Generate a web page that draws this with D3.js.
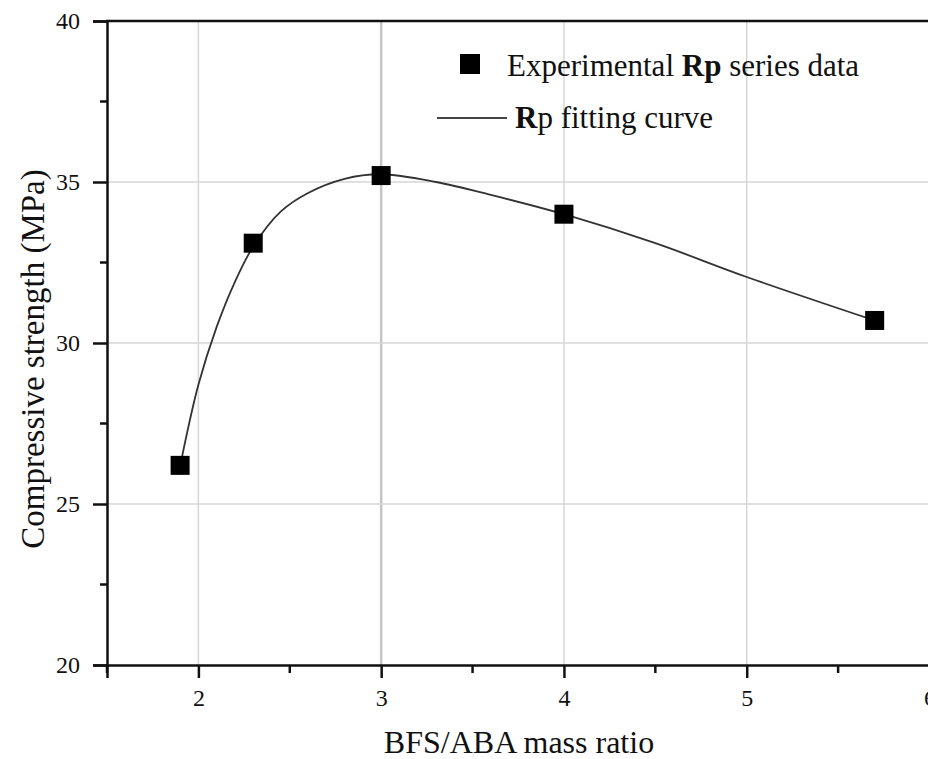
<!DOCTYPE html>
<html>
<head>
<meta charset="utf-8">
<script src="https://d3js.org/d3.v7.min.js"></script>
<style>
    body { margin: 0; background: #fff; }
    text { font-family: "Liberation Serif", "Times New Roman", serif; fill: #111; }
</style>
</head>
<body>
<div id="chart"></div>
<script>
    // measured points
    var ratio = [1.9, 2.3, 3.0, 4.0, 5.7];
    var strength = [26.2, 33.1, 35.2, 34.0, 30.7];

    // fitting curve
    var fitX = [1.91, 2.0, 2.1, 2.2, 2.3, 2.45, 2.6, 2.8, 3.0, 3.3, 3.6, 4.0, 4.5, 5.0, 5.7];
    var fitY = [26.45, 28.7, 30.5, 31.9, 33.0, 34.08, 34.66, 35.1, 35.24, 35.0, 34.6, 34.0, 33.1, 32.05, 30.7];

    var xTicks = [2, 3, 4, 5, 6];
    var xMinor = [1.5, 2.5, 3.5, 4.5, 5.5];
    var yTicks = [20, 25, 30, 35, 40];
    var yMinor = [22.5, 27.5, 32.5, 37.5];

    var W = 928, H = 759;
    var pLeft = 107, pTop = 21, pBottom = 665, pRight = 929.5;

    var svg = d3.select("#chart").append("svg")
        .attr("width", W)
        .attr("height", H);

    var x = d3.scaleLinear().domain([1.5, 6]).range([pLeft, pRight]);
    var y = d3.scaleLinear().domain([20, 40]).range([pBottom, pTop]);

    // grid
    svg.append("g")
        .selectAll("line")
        .data(xTicks.filter(function (d) { return d < 6; }))
        .join("line")
        .attr("x1", function (d) { return x(d); })
        .attr("x2", function (d) { return x(d); })
        .attr("y1", pTop)
        .attr("y2", pBottom)
        .attr("stroke", function (d) { return d == 3 ? "#c4c4c4" : "#d6d6d6"; })
        .attr("stroke-width", function (d) { return d == 3 ? 2.5 : 1.5; });

    svg.append("g")
        .selectAll("line")
        .data([25, 30, 35])
        .join("line")
        .attr("x1", pLeft)
        .attr("x2", pRight)
        .attr("y1", function (d) { return y(d); })
        .attr("y2", function (d) { return y(d); })
        .attr("stroke", "#d6d6d6")
        .attr("stroke-width", 1.5);

    // x axis
    var xAxis = svg.append("g")
        .attr("transform", "translate(0," + pBottom + ")")
        .call(d3.axisBottom(x).tickValues(xTicks).tickSize(13).tickPadding(11).tickFormat(d3.format("d")));
    xAxis.append("g")
        .selectAll("line")
        .data(xMinor)
        .join("line")
        .attr("x1", function (d) { return x(d); })
        .attr("x2", function (d) { return x(d); })
        .attr("y1", 0)
        .attr("y2", 8)
        .attr("stroke", "#111")
        .attr("stroke-width", 2.5);

    // y axis
    var yAxis = svg.append("g")
        .attr("transform", "translate(" + pLeft + ",0)")
        .call(d3.axisLeft(y).tickValues(yTicks).tickSize(14).tickPadding(10));
    yAxis.append("g")
        .selectAll("line")
        .data(yMinor)
        .join("line")
        .attr("x1", -7)
        .attr("x2", 0)
        .attr("y1", function (d) { return y(d); })
        .attr("y2", function (d) { return y(d); })
        .attr("stroke", "#111")
        .attr("stroke-width", 2.5);

    svg.selectAll(".domain").attr("stroke", "#111").attr("stroke-width", 2.5);
    svg.selectAll(".tick line").attr("stroke", "#111").attr("stroke-width", 2.5);
    svg.selectAll(".tick text")
        .style("font-family", "Liberation Serif")
        .style("font-size", "24px")
        .attr("fill", "#111");
    yAxis.selectAll(".tick text").attr("dx", -3);

    // top frame line
    svg.append("line")
        .attr("x1", pLeft - 1)
        .attr("x2", W)
        .attr("y1", pTop)
        .attr("y2", pTop)
        .attr("stroke", "#111")
        .attr("stroke-width", 2.5);

    // fitting curve
    var fit = fitX.map(function (d, i) { return [d, fitY[i]]; });
    svg.append("path")
        .datum(fit)
        .attr("fill", "none")
        .attr("stroke", "#333")
        .attr("stroke-width", 1.8)
        .attr("d", d3.line()
            .x(function (d) { return x(d[0]); })
            .y(function (d) { return y(d[1]); })
            .curve(d3.curveCatmullRom.alpha(0.5)));

    // data squares
    var s = 19;
    svg.append("g")
        .selectAll("rect")
        .data(ratio)
        .join("rect")
        .attr("x", function (d) { return x(d) - s / 2; })
        .attr("y", function (d, i) { return y(strength[i]) - s / 2; })
        .attr("width", s)
        .attr("height", s)
        .attr("fill", "#000");

    // legend
    svg.append("rect")
        .attr("x", 460).attr("y", 54)
        .attr("width", 20).attr("height", 20)
        .attr("fill", "#000");
    var t1 = svg.append("text").attr("x", 507).attr("y", 76).style("font-size", "31px");
    t1.append("tspan").text("Experimental ");
    t1.append("tspan").style("font-weight", "bold").text("Rp");
    t1.append("tspan").text(" series data");

    svg.append("line")
        .attr("x1", 437).attr("x2", 507)
        .attr("y1", 118).attr("y2", 118)
        .attr("stroke", "#444")
        .attr("stroke-width", 2);
    var t2 = svg.append("text").attr("x", 515).attr("y", 128).style("font-size", "31px");
    t2.append("tspan").style("font-weight", "bold").text("R");
    t2.append("tspan").text("p fitting curve");

    // axis titles
    svg.append("text")
        .attr("x", 519)
        .attr("y", 753)
        .attr("text-anchor", "middle")
        .style("font-size", "32px")
        .text("BFS/ABA mass ratio");

    svg.append("text")
        .attr("transform", "translate(44,359) rotate(-90)")
        .attr("text-anchor", "middle")
        .style("font-size", "33px")
        .text("Compressive strength (MPa)");
</script>
</body>
</html>
